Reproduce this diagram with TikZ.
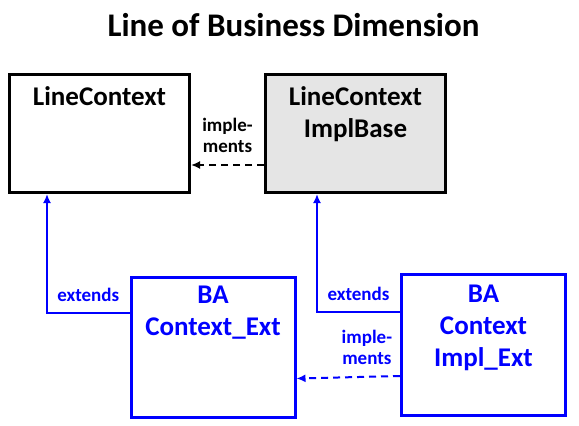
\documentclass[tikz,border=0pt]{standalone}
\usepackage{fontspec}
\setmainfont{Carlito}
\usetikzlibrary{positioning}
\usetikzlibrary{arrows.meta}

\definecolor{implgray}{RGB}{229,229,229}

\tikzset{
  classbox/.style={rectangle,draw,line width=3pt,minimum width=180pt,minimum height=118pt,inner sep=0pt},
  extbox/.style={classbox,draw=blue,minimum width=164pt,minimum height=140pt},
  boxname/.style={align=center,font=\fontsize{27}{32}\selectfont\bfseries,inner sep=0pt},
  edgelabel/.style={align=center,font=\fontsize{19}{21.5}\selectfont\bfseries,inner sep=0pt},
  implarrow/.style={line width=2pt,dash pattern=on 7pt off 5pt,->},
  extarrow/.style={blue,line width=2pt,->},
}

\begin{document}
\begin{tikzpicture}[>={Latex[length=9pt,width=8pt]},line join=miter,x=1pt,y=-1pt]
        \useasboundingbox (0,0) rectangle (579,426);
        %
        \node[font=\fontsize{33}{38}\selectfont\bfseries,anchor=base] (title) at (293.5,36) {Line of Business Dimension};
        %
        \node (linectx) at (99.5,133.5) [classbox] {};
        \node (implbase) at (355.5,133.5) [classbox,fill=implgray] {};
        \node (ctxext) at (213,347.5) [extbox] {};
        \node (implext) at (483.5,345) [extbox,minimum height=141pt] {};
        %
        \node[boxname,below=13pt of linectx.north] (linectxname) {LineContext};
        \node[boxname,below=13pt of implbase.north] (implbasename) {LineContext\\ImplBase};
        \node[boxname,text=blue,below=10pt of ctxext.north] (ctxextname) {BA\\Context\_Ext};
        \node[boxname,text=blue,below=12pt of implext.north] (implextname) {BA\\Context\\Impl\_Ext};
        %
        \draw [implarrow] ([yshift=-31.5pt]implbase.west) to node[edgelabel,above=11pt] (implabel) {imple-\\ments} ([yshift=-31.5pt]linectx.east);
        \draw [implarrow,blue] ([yshift=-31pt]implext.west) to node[edgelabel,text=blue,pos=0.32,above=11pt] (implextlabel) {imple-\\ments} ([yshift=-31pt]ctxext.east);
        \draw [extarrow] ([yshift=34.5pt]ctxext.west) -| node[edgelabel,pos=0.25,above=10pt] (extlabel) {extends} ([xshift=39pt]linectx.south west);
        \draw [extarrow] ([yshift=33pt]implext.west) -| node[edgelabel,pos=0.25,above=10pt] (implextextlabel) {extends} ([xshift=53pt]implbase.south west);
        %
\end{tikzpicture}
\end{document}
